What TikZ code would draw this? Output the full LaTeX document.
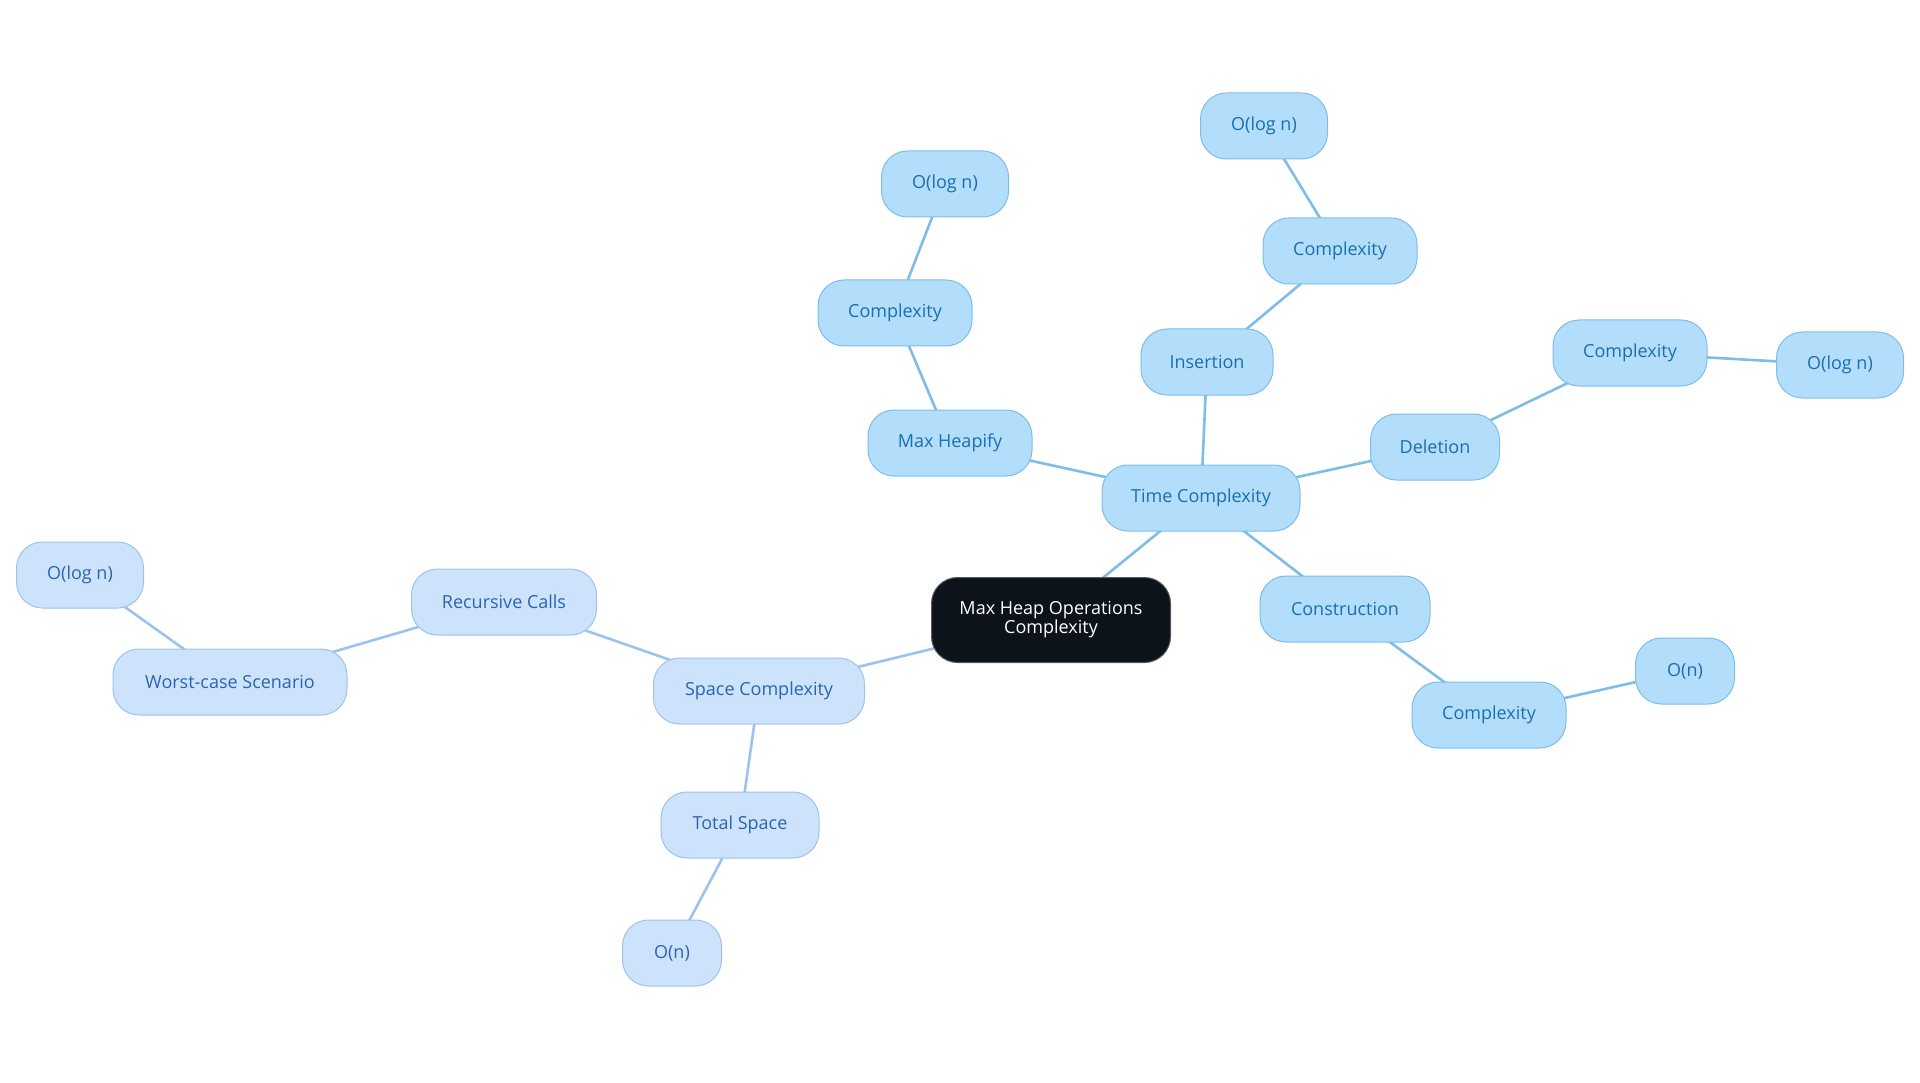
\documentclass[tikz,border=0pt]{standalone}
\usepackage{fontspec}
\setmainfont{Open Sans}
\usetikzlibrary{backgrounds}
\definecolor{tfill}{HTML}{B3DEFB}
\definecolor{tdraw}{HTML}{7DBDE8}
\definecolor{ttext}{HTML}{1A6EAF}
\definecolor{sfill}{HTML}{CDE3FB}
\definecolor{sdraw}{HTML}{9CC3EC}
\definecolor{stext}{HTML}{2A64B2}
\definecolor{rootfill}{HTML}{0C131B}
\tikzset{
  base/.style={rounded corners=26pt, minimum height=66pt, inner sep=0pt, line width=1pt, font=\fontsize{18}{21}\selectfont},
  tnode/.style={base, fill=tfill, draw=tdraw, text=ttext},
  snode/.style={base, fill=sfill, draw=sdraw, text=stext},
  rootnode/.style={base, fill=rootfill, draw=rootfill!70!white, text=white, minimum height=85pt, align=center, font=\fontsize{18}{19}\selectfont},
  tedge/.style={draw=tdraw, line width=2.6pt},
  sedge/.style={draw=sdraw, line width=2.6pt},
}
\begin{document}
\begin{tikzpicture}[x=1pt,y=-1pt]
\useasboundingbox (0,0) rectangle (1920,1083);
\node[rootnode, minimum width=239pt] (root) at (1051,620) {Max Heap Operations\\Complexity};
% time branch
\node[tnode, minimum width=198pt] (time) at (1201,498) {Time Complexity};
\node[tnode, minimum width=132pt] (ins) at (1207,362) {Insertion};
\node[tnode, minimum width=154pt] (insc) at (1340,251) {Complexity};
\node[tnode, minimum width=127pt] (insv) at (1264,126) {O(log n)};
\node[tnode, minimum width=164pt] (heap) at (950,443) {Max Heapify};
\node[tnode, minimum width=154pt] (heapc) at (895,313) {Complexity};
\node[tnode, minimum width=127pt] (heapv) at (945,184) {O(log n)};
\node[tnode, minimum width=129pt] (del) at (1435,447) {Deletion};
\node[tnode, minimum width=154pt] (delc) at (1630,353) {Complexity};
\node[tnode, minimum width=127pt] (delv) at (1840,365) {O(log n)};
\node[tnode, minimum width=170pt] (con) at (1345,609) {Construction};
\node[tnode, minimum width=154pt] (conc) at (1489,715) {Complexity};
\node[tnode, minimum width=99pt] (conv) at (1685,671) {O(n)};
% space branch
\node[snode, minimum width=211pt] (space) at (759,691) {Space Complexity};
\node[snode, minimum width=185pt] (rec) at (504,602) {Recursive Calls};
\node[snode, minimum width=234pt] (worst) at (230,682) {Worst-case Scenario};
\node[snode, minimum width=127pt] (worstv) at (80,575) {O(log n)};
\node[snode, minimum width=158pt] (total) at (740,825) {Total Space};
\node[snode, minimum width=99pt] (totalv) at (672,953) {O(n)};
% edges
\begin{scope}[on background layer]
\path[tedge] (root.center) -- (time.center);
\path[tedge] (time.center) -- (ins.center);
\path[tedge] (ins.center) -- (insc.center);
\path[tedge] (insc.center) -- (insv.center);
\path[tedge] (time.center) -- (heap.center);
\path[tedge] (heap.center) -- (heapc.center);
\path[tedge] (heapc.center) -- (heapv.center);
\path[tedge] (time.center) -- (del.center);
\path[tedge] (del.center) -- (delc.center);
\path[tedge] (delc.center) -- (delv.center);
\path[tedge] (time.center) -- (con.center);
\path[tedge] (con.center) -- (conc.center);
\path[tedge] (conc.center) -- (conv.center);
\path[sedge] (root.center) -- (space.center);
\path[sedge] (space.center) -- (rec.center);
\path[sedge] (rec.center) -- (worst.center);
\path[sedge] (worst.center) -- (worstv.center);
\path[sedge] (space.center) -- (total.center);
\path[sedge] (total.center) -- (totalv.center);
\end{scope}
\end{tikzpicture}
\end{document}
